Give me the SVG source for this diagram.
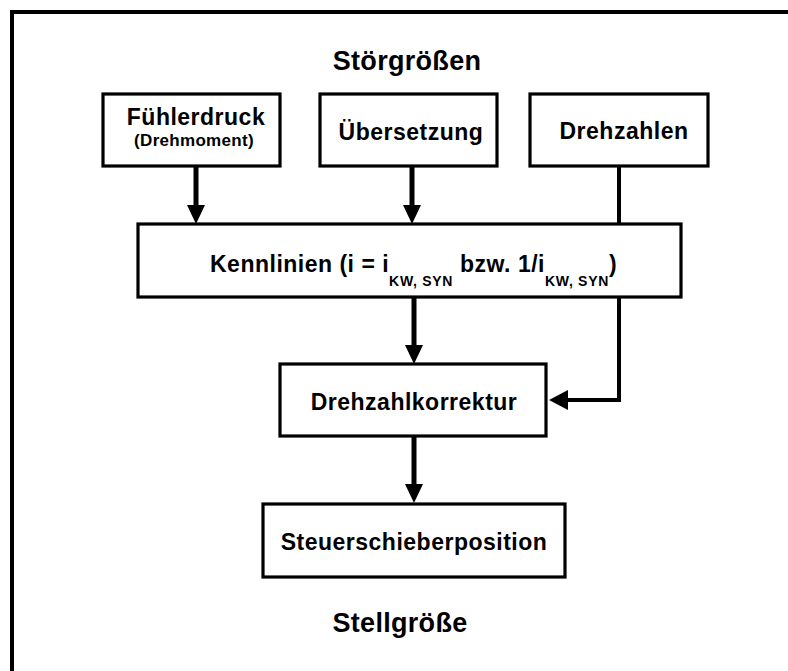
<svg xmlns="http://www.w3.org/2000/svg" width="788" height="671" viewBox="0 0 788 671">
<style>
.box{fill:#fff;stroke:#000;stroke-width:3.2}
.t{font-family:"Liberation Sans",Arial,sans-serif;font-weight:bold;fill:#000}
.m{font-size:23px;letter-spacing:0.5px}
.s{font-size:14px;letter-spacing:0.7px}
.h{font-size:27px;letter-spacing:0.3px}
.ln{fill:none;stroke:#000;stroke-width:5}
.ah{fill:#000}
</style>
<rect width="788" height="671" fill="#fff"/>
<path d="M12 700 V12 H800" fill="none" stroke="#000" stroke-width="4"/>
<text class="t h" x="407" y="70" text-anchor="middle">Störgrößen</text>
<text class="t h" x="400" y="632" text-anchor="middle">Stellgröße</text>
<g id="connectors">
<line class="ln" x1="196" y1="166" x2="196" y2="207"/>
<polygon class="ah" points="187,205 205,205 196,224"/>
<line class="ln" x1="412" y1="166" x2="412" y2="207"/>
<polygon class="ah" points="403,205 421,205 412,224"/>
<line class="ln" x1="414" y1="297" x2="414" y2="347"/>
<polygon class="ah" points="405,345 423,345 414,364"/>
<line class="ln" x1="414" y1="436" x2="414" y2="486"/>
<polygon class="ah" points="405,484 423,484 414,503"/>
<polyline points="619,166 619,400 566,400" fill="none" stroke="#000" stroke-width="4"/>
<polygon class="ah" points="568,390 568,410 549,400"/>
</g>
<g id="fuehlerdruck">
<rect class="box" x="103" y="94" width="177" height="72"/>
<text class="t m" x="196" y="125" text-anchor="middle">Fühlerdruck</text>
<text class="t" x="194" y="146" text-anchor="middle" font-size="17" letter-spacing="0.3">(Drehmoment)</text>
</g>
<g id="uebersetzung">
<rect class="box" x="320" y="94" width="177" height="72"/>
<text class="t m" x="411" y="140" text-anchor="middle">Übersetzung</text>
</g>
<g id="drehzahlen">
<rect class="box" x="530" y="94" width="178" height="72"/>
<text class="t m" x="624" y="139" text-anchor="middle">Drehzahlen</text>
</g>
<g id="kennlinien">
<rect class="box" x="138" y="224" width="543" height="73"/>
<text class="t m" x="210" y="272">Kennlinien (i = i<tspan class="s" dy="14">KW, SYN</tspan><tspan dy="-14"> bzw. 1/i</tspan><tspan class="s" dy="14">KW, SYN</tspan><tspan dy="-14">)</tspan></text>
</g>
<g id="drehzahlkorrektur">
<rect class="box" x="280" y="364" width="266" height="72"/>
<text class="t m" x="414" y="410" text-anchor="middle">Drehzahlkorrektur</text>
</g>
<g id="steuerschieberposition">
<rect class="box" x="263" y="504" width="302" height="73"/>
<text class="t m" x="414" y="550" text-anchor="middle">Steuerschieberposition</text>
</g>
</svg>
